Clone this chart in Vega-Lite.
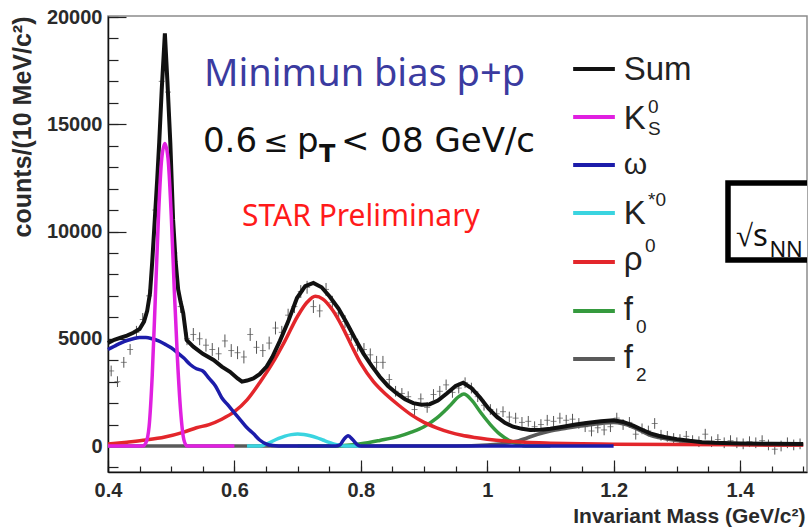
{
"$schema": "https://vega.github.io/schema/vega-lite/v6.json",
"width": 699, "height": 456,
"autosize": {"type": "none"},
"padding": {"left": 108, "top": 16, "right": 3, "bottom": 58},
"background": "white",
"data": {"values": [{}]},
"datasets": {
"sum": [{"m":0.400,"c":4800},{"m":0.410,"c":4950},{"m":0.420,"c":5050},{"m":0.430,"c":5150},{"m":0.440,"c":5280},{"m":0.450,"c":5450},{"m":0.457,"c":5800},{"m":0.462,"c":6300},{"m":0.4665,"c":7130},{"m":0.470,"c":8600},{"m":0.474,"c":10540},{"m":0.478,"c":12500},{"m":0.481,"c":14130},{"m":0.485,"c":16600},{"m":0.490,"c":19240},{"m":0.494,"c":17000},{"m":0.4986,"c":14130},{"m":0.503,"c":10540},{"m":0.507,"c":8600},{"m":0.511,"c":7300},{"m":0.515,"c":6700},{"m":0.519,"c":6200},{"m":0.5245,"c":4940},{"m":0.535,"c":4630},{"m":0.550,"c":4300},{"m":0.567,"c":4010},{"m":0.580,"c":3700},{"m":0.593,"c":3460},{"m":0.605,"c":3150},{"m":0.612,"c":3000},{"m":0.620,"c":3050},{"m":0.630,"c":3150},{"m":0.640,"c":3350},{"m":0.651,"c":3700},{"m":0.660,"c":4150},{"m":0.672,"c":4900},{"m":0.685,"c":5800},{"m":0.699,"c":6900},{"m":0.712,"c":7450},{"m":0.725,"c":7600},{"m":0.738,"c":7400},{"m":0.751,"c":6960},{"m":0.765,"c":6400},{"m":0.778,"c":5720},{"m":0.791,"c":5000},{"m":0.804,"c":4320},{"m":0.817,"c":3750},{"m":0.830,"c":3230},{"m":0.843,"c":2800},{"m":0.857,"c":2450},{"m":0.870,"c":2180},{"m":0.883,"c":2000},{"m":0.896,"c":1920},{"m":0.909,"c":1950},{"m":0.922,"c":2120},{"m":0.936,"c":2450},{"m":0.950,"c":2800},{"m":0.962,"c":2950},{"m":0.975,"c":2700},{"m":0.989,"c":2250},{"m":1.002,"c":1750},{"m":1.015,"c":1370},{"m":1.028,"c":1080},{"m":1.041,"c":900},{"m":1.055,"c":800},{"m":1.068,"c":750},{"m":1.085,"c":760},{"m":1.100,"c":800},{"m":1.120,"c":900},{"m":1.140,"c":1000},{"m":1.160,"c":1080},{"m":1.180,"c":1150},{"m":1.200,"c":1200},{"m":1.215,"c":1120},{"m":1.231,"c":950},{"m":1.245,"c":760},{"m":1.258,"c":590},{"m":1.271,"c":480},{"m":1.284,"c":400},{"m":1.300,"c":320},{"m":1.320,"c":240},{"m":1.340,"c":180},{"m":1.360,"c":150},{"m":1.400,"c":120},{"m":1.450,"c":100},{"m":1.500,"c":90}],
"ks": [{"m":0.400,"c":0},{"m":0.455,"c":0},{"m":0.460,"c":150},{"m":0.465,"c":900},{"m":0.470,"c":3300},{"m":0.475,"c":7000},{"m":0.480,"c":10800},{"m":0.485,"c":13400},{"m":0.490,"c":14100},{"m":0.495,"c":13400},{"m":0.500,"c":10800},{"m":0.505,"c":7200},{"m":0.510,"c":4000},{"m":0.515,"c":1600},{"m":0.520,"c":300},{"m":0.525,"c":0},{"m":0.600,"c":0}],
"om": [{"m":0.400,"c":4500},{"m":0.410,"c":4650},{"m":0.420,"c":4800},{"m":0.430,"c":4920},{"m":0.440,"c":5000},{"m":0.450,"c":5060},{"m":0.460,"c":5060},{"m":0.470,"c":5000},{"m":0.480,"c":4900},{"m":0.490,"c":4750},{"m":0.500,"c":4580},{"m":0.510,"c":4350},{"m":0.520,"c":4100},{"m":0.530,"c":3800},{"m":0.540,"c":3600},{"m":0.550,"c":3500},{"m":0.560,"c":3150},{"m":0.570,"c":2800},{"m":0.580,"c":2250},{"m":0.590,"c":1900},{"m":0.600,"c":1550},{"m":0.610,"c":1200},{"m":0.620,"c":850},{"m":0.630,"c":580},{"m":0.640,"c":280},{"m":0.650,"c":100},{"m":0.660,"c":20},{"m":0.670,"c":0},{"m":0.760,"c":0},{"m":0.767,"c":50},{"m":0.773,"c":300},{"m":0.780,"c":480},{"m":0.787,"c":300},{"m":0.795,"c":50},{"m":0.800,"c":0},{"m":1.200,"c":0}],
"kst": [{"m":0.620,"c":0},{"m":0.640,"c":0},{"m":0.650,"c":80},{"m":0.660,"c":220},{"m":0.670,"c":350},{"m":0.680,"c":460},{"m":0.690,"c":530},{"m":0.700,"c":560},{"m":0.710,"c":540},{"m":0.720,"c":480},{"m":0.730,"c":390},{"m":0.740,"c":280},{"m":0.750,"c":170},{"m":0.760,"c":70},{"m":0.770,"c":10},{"m":0.780,"c":0},{"m":0.800,"c":0}],
"rho": [{"m":0.400,"c":90},{"m":0.430,"c":180},{"m":0.460,"c":280},{"m":0.490,"c":420},{"m":0.520,"c":650},{"m":0.540,"c":850},{"m":0.560,"c":1000},{"m":0.580,"c":1250},{"m":0.600,"c":1600},{"m":0.620,"c":2150},{"m":0.640,"c":2950},{"m":0.660,"c":3850},{"m":0.680,"c":4900},{"m":0.700,"c":6050},{"m":0.715,"c":6700},{"m":0.728,"c":6980},{"m":0.740,"c":6850},{"m":0.755,"c":6350},{"m":0.770,"c":5600},{"m":0.785,"c":4700},{"m":0.800,"c":3850},{"m":0.820,"c":3000},{"m":0.840,"c":2400},{"m":0.860,"c":1900},{"m":0.880,"c":1450},{"m":0.900,"c":1100},{"m":0.920,"c":850},{"m":0.940,"c":650},{"m":0.960,"c":500},{"m":0.980,"c":400},{"m":1.000,"c":320},{"m":1.030,"c":230},{"m":1.060,"c":170},{"m":1.100,"c":130},{"m":1.150,"c":100},{"m":1.200,"c":85},{"m":1.300,"c":65},{"m":1.400,"c":55},{"m":1.500,"c":45}],
"f0": [{"m":0.700,"c":0},{"m":0.760,"c":0},{"m":0.800,"c":100},{"m":0.830,"c":260},{"m":0.860,"c":450},{"m":0.880,"c":650},{"m":0.900,"c":900},{"m":0.920,"c":1300},{"m":0.940,"c":1850},{"m":0.955,"c":2300},{"m":0.963,"c":2420},{"m":0.975,"c":2150},{"m":0.990,"c":1550},{"m":1.005,"c":1000},{"m":1.020,"c":550},{"m":1.035,"c":250},{"m":1.050,"c":80},{"m":1.060,"c":0},{"m":1.100,"c":0}],
"f2": [{"m":0.400,"c":0},{"m":0.950,"c":0},{"m":1.000,"c":50},{"m":1.050,"c":250},{"m":1.080,"c":550},{"m":1.100,"c":700},{"m":1.120,"c":800},{"m":1.140,"c":900},{"m":1.160,"c":980},{"m":1.180,"c":1050},{"m":1.200,"c":1100},{"m":1.215,"c":1030},{"m":1.231,"c":870},{"m":1.245,"c":680},{"m":1.258,"c":500},{"m":1.271,"c":400},{"m":1.284,"c":330},{"m":1.300,"c":250},{"m":1.320,"c":180},{"m":1.340,"c":130},{"m":1.360,"c":100},{"m":1.400,"c":70},{"m":1.450,"c":50},{"m":1.500,"c":45}],
"pts": [{"m":0.405,"c":3500,"e":250},{"m":0.415,"c":3000,"e":250},{"m":0.425,"c":3900,"e":250},{"m":0.435,"c":4500,"e":250},{"m":0.445,"c":5300,"e":300},{"m":0.455,"c":5900,"e":300},{"m":0.465,"c":7000,"e":300},{"m":0.475,"c":11000,"e":400},{"m":0.485,"c":17000,"e":400},{"m":0.495,"c":16500,"e":400},{"m":0.505,"c":9000,"e":400},{"m":0.515,"c":6500,"e":300},{"m":0.525,"c":5000,"e":300},{"m":0.535,"c":5200,"e":300},{"m":0.545,"c":5000,"e":300},{"m":0.555,"c":4700,"e":300},{"m":0.565,"c":4500,"e":300},{"m":0.575,"c":4300,"e":300},{"m":0.585,"c":4900,"e":300},{"m":0.595,"c":4450,"e":300},{"m":0.605,"c":4350,"e":300},{"m":0.615,"c":4150,"e":300},{"m":0.625,"c":5200,"e":300},{"m":0.635,"c":4600,"e":300},{"m":0.645,"c":4450,"e":300},{"m":0.655,"c":4800,"e":300},{"m":0.665,"c":5500,"e":300},{"m":0.675,"c":5300,"e":300},{"m":0.685,"c":6100,"e":300},{"m":0.695,"c":6500,"e":300},{"m":0.705,"c":7200,"e":300},{"m":0.715,"c":7400,"e":300},{"m":0.725,"c":6500,"e":300},{"m":0.735,"c":6300,"e":300},{"m":0.745,"c":7300,"e":300},{"m":0.755,"c":6700,"e":300},{"m":0.765,"c":6200,"e":300},{"m":0.775,"c":5800,"e":300},{"m":0.785,"c":5200,"e":300},{"m":0.795,"c":4700,"e":300},{"m":0.805,"c":4500,"e":300},{"m":0.815,"c":4250,"e":300},{"m":0.825,"c":3900,"e":300},{"m":0.835,"c":3900,"e":300},{"m":0.845,"c":3100,"e":250},{"m":0.855,"c":2550,"e":250},{"m":0.865,"c":2450,"e":250},{"m":0.875,"c":2300,"e":250},{"m":0.885,"c":1700,"e":250},{"m":0.895,"c":2200,"e":250},{"m":0.905,"c":1800,"e":250},{"m":0.915,"c":2400,"e":250},{"m":0.925,"c":2550,"e":250},{"m":0.935,"c":2850,"e":250},{"m":0.945,"c":2500,"e":250},{"m":0.955,"c":2700,"e":250},{"m":0.965,"c":2950,"e":250},{"m":0.975,"c":2700,"e":250},{"m":0.985,"c":2300,"e":250},{"m":0.995,"c":1900,"e":250},{"m":1.005,"c":1700,"e":250},{"m":1.015,"c":1500,"e":250},{"m":1.025,"c":1600,"e":250},{"m":1.035,"c":1350,"e":250},{"m":1.045,"c":1300,"e":250},{"m":1.055,"c":1100,"e":250},{"m":1.065,"c":1150,"e":250},{"m":1.075,"c":900,"e":250},{"m":1.085,"c":1000,"e":250},{"m":1.095,"c":1200,"e":250},{"m":1.105,"c":1150,"e":250},{"m":1.115,"c":1300,"e":250},{"m":1.125,"c":1200,"e":250},{"m":1.135,"c":1250,"e":250},{"m":1.145,"c":1050,"e":250},{"m":1.155,"c":900,"e":250},{"m":1.165,"c":700,"e":250},{"m":1.175,"c":850,"e":250},{"m":1.185,"c":750,"e":250},{"m":1.195,"c":900,"e":250},{"m":1.205,"c":1300,"e":250},{"m":1.215,"c":1000,"e":250},{"m":1.225,"c":1100,"e":250},{"m":1.235,"c":550,"e":250},{"m":1.245,"c":800,"e":250},{"m":1.255,"c":700,"e":250},{"m":1.265,"c":1050,"e":250},{"m":1.275,"c":500,"e":250},{"m":1.285,"c":450,"e":250},{"m":1.295,"c":350,"e":250},{"m":1.305,"c":300,"e":250},{"m":1.315,"c":450,"e":250},{"m":1.325,"c":250,"e":250},{"m":1.335,"c":200,"e":250},{"m":1.345,"c":550,"e":250},{"m":1.355,"c":200,"e":250},{"m":1.365,"c":300,"e":250},{"m":1.375,"c":150,"e":250},{"m":1.385,"c":250,"e":250},{"m":1.395,"c":150,"e":250},{"m":1.405,"c":100,"e":250},{"m":1.415,"c":200,"e":250},{"m":1.425,"c":150,"e":250},{"m":1.435,"c":250,"e":250},{"m":1.445,"c":50,"e":250},{"m":1.455,"c":-150,"e":250},{"m":1.465,"c":0,"e":250},{"m":1.475,"c":150,"e":250},{"m":1.485,"c":50,"e":250},{"m":1.495,"c":100,"e":250}]
},
"config": {
"view": {"stroke": "#8c8c8c", "strokeWidth": 1.5},
"axis": {"labelFont": "Liberation Sans", "labelFontWeight": "bold", "labelFontSize": 20, "labelColor": "#2a2a2a", "titleFont": "Liberation Sans", "titleFontWeight": "bold", "titleFontSize": 22, "titleColor": "#2a2a2a", "domainColor": "#111", "domainWidth": 1.5, "tickColor": "#222", "tickWidth": 1.2, "grid": false}
},
"resolve": {"axis": {"x": "independent", "y": "independent"}},
"layer": [
{"data": {"name": "f2"}, "mark": {"type": "line", "color": "#5a5a5a", "strokeWidth": 3.5, "interpolate": "monotone"},
 "encoding": {
  "x": {"field": "m", "type": "quantitative", "scale": {"domain": [0.4, 1.506], "nice": false, "zero": false},
        "axis": {"orient": "bottom", "values": [0.4, 0.6, 0.8, 1, 1.2, 1.4], "format": ".1~f", "tickSize": -12, "labelPadding": 20, "labelFlush": false,
                 "title": "Invariant Mass (GeV/c²)", "titleFontSize": 21, "titleAlign": "right", "titleAnchor": "end", "titleX": 697, "titleY": 44, "titleBaseline": "middle"}},
  "y": {"field": "c", "type": "quantitative", "scale": {"domain": [-1212, 20047], "nice": false, "zero": false},
        "axis": {"orient": "left", "values": [0, 5000, 10000, 15000, 20000], "format": "d", "tickSize": -18, "labelPadding": 24, "labelFlush": false,
                 "title": "counts/(10 MeV/c²)", "titleFontSize": 25, "titleX": -86, "titleY": 0, "titleAlign": "right", "titleAngle": -90, "titleBaseline": "middle"}}}},
{"data": {"name": "pts"}, "mark": {"type": "point", "opacity": 0},
 "encoding": {
  "x": {"field": "m", "type": "quantitative",
        "axis": {"orient": "top", "offset": -456, "values": [0.4,0.45,0.5,0.55,0.6,0.65,0.7,0.75,0.8,0.85,0.9,0.95,1,1.05,1.1,1.15,1.2,1.25,1.3,1.35,1.4,1.45,1.5], "labels": false, "domain": false, "tickSize": 6, "title": null}},
  "y": {"field": "c", "type": "quantitative",
        "axis": {"orient": "right", "offset": -699, "values": [-1000,0,1000,2000,3000,4000,5000,6000,7000,8000,9000,10000,11000,12000,13000,14000,15000,16000,17000,18000,19000,20000], "labels": false, "domain": false, "tickSize": 10, "title": null}}}},
{"data": {"name": "pts"}, "mark": {"type": "errorbar", "color": "#555", "thickness": 1},
 "encoding": {"x": {"field": "m", "type": "quantitative", "axis": null}, "y": {"field": "c", "type": "quantitative", "axis": null}, "yError": {"field": "e"}}},
{"data": {"name": "pts"}, "mark": {"type": "tick", "orient": "horizontal", "size": 6, "thickness": 1, "color": "#555"},
 "encoding": {"x": {"field": "m", "type": "quantitative", "axis": null}, "y": {"field": "c", "type": "quantitative", "axis": null}}},
{"data": {"name": "f0"}, "mark": {"type": "line", "color": "#359a3e", "strokeWidth": 3.5, "interpolate": "monotone"},
 "encoding": {"x": {"field": "m", "type": "quantitative", "axis": null}, "y": {"field": "c", "type": "quantitative", "axis": null}}},
{"data": {"name": "rho"}, "mark": {"type": "line", "color": "#e3262b", "strokeWidth": 3.5, "interpolate": "monotone"},
 "encoding": {"x": {"field": "m", "type": "quantitative", "axis": null}, "y": {"field": "c", "type": "quantitative", "axis": null}}},
{"data": {"name": "kst"}, "mark": {"type": "line", "color": "#3ad4e0", "strokeWidth": 3.5, "interpolate": "monotone"},
 "encoding": {"x": {"field": "m", "type": "quantitative", "axis": null}, "y": {"field": "c", "type": "quantitative", "axis": null}}},
{"data": {"name": "om"}, "mark": {"type": "line", "color": "#1c1caa", "strokeWidth": 3.5, "interpolate": "monotone"},
 "encoding": {"x": {"field": "m", "type": "quantitative", "axis": null}, "y": {"field": "c", "type": "quantitative", "axis": null}}},
{"data": {"name": "sum"}, "mark": {"type": "line", "color": "#111", "strokeWidth": 4},
 "encoding": {"x": {"field": "m", "type": "quantitative", "axis": null}, "y": {"field": "c", "type": "quantitative", "axis": null}}},
{"data": {"name": "ks"}, "mark": {"type": "line", "color": "#e020e0", "strokeWidth": 3.5, "interpolate": "monotone"},
 "encoding": {"x": {"field": "m", "type": "quantitative", "axis": null}, "y": {"field": "c", "type": "quantitative", "axis": null}}},

{"mark": {"type": "text", "text": "Minimun bias p+p", "font": "Noto Sans", "fontSize": 38, "color": "#3b3ba0", "align": "left", "baseline": "alphabetic"},
 "encoding": {"x": {"datum": 0.552, "type": "quantitative", "axis": null}, "y": {"datum": 16783, "type": "quantitative", "axis": null}}},
{"mark": {"type": "text", "text": "0.6", "font": "DejaVu Sans", "fontSize": 34, "color": "#111", "align": "left", "baseline": "alphabetic"},
 "encoding": {"x": {"datum": 0.5503, "type": "quantitative", "axis": null}, "y": {"datum": 13706, "type": "quantitative", "axis": null}}},
{"mark": {"type": "text", "text": "≤", "font": "DejaVu Sans", "fontSize": 30, "color": "#111", "align": "left", "baseline": "alphabetic"},
 "encoding": {"x": {"datum": 0.6455, "type": "quantitative", "axis": null}, "y": {"datum": 13706, "type": "quantitative", "axis": null}}},
{"mark": {"type": "text", "text": "p", "font": "DejaVu Sans", "fontSize": 34, "color": "#111", "align": "left", "baseline": "alphabetic"},
 "encoding": {"x": {"datum": 0.6991, "type": "quantitative", "axis": null}, "y": {"datum": 13706, "type": "quantitative", "axis": null}}},
{"mark": {"type": "text", "text": "T", "font": "DejaVu Sans", "fontSize": 24, "fontWeight": "bold", "color": "#111", "align": "left", "baseline": "alphabetic"},
 "encoding": {"x": {"datum": 0.7339, "type": "quantitative", "axis": null}, "y": {"datum": 13240, "type": "quantitative", "axis": null}}},
{"mark": {"type": "text", "text": "< 08 GeV/c", "font": "DejaVu Sans", "fontSize": 34, "color": "#111", "align": "left", "baseline": "alphabetic"},
 "encoding": {"x": {"datum": 0.7687, "type": "quantitative", "axis": null}, "y": {"datum": 13706, "type": "quantitative", "axis": null}}},
{"mark": {"type": "text", "text": "STAR Preliminary", "font": "Noto Sans", "fontSize": 30, "color": "#ff1a1a", "align": "left", "baseline": "alphabetic"},
 "encoding": {"x": {"datum": 0.612, "type": "quantitative", "axis": null}, "y": {"datum": 10256, "type": "quantitative", "axis": null}}},

{"mark": {"type": "rect", "fill": "white", "stroke": "#000", "strokeWidth": 5.5, "clip": true},
 "encoding": {"x": {"datum": 1.381, "type": "quantitative", "axis": null}, "x2": {"datum": 1.62}, "y": {"datum": 12261, "type": "quantitative", "axis": null}, "y2": {"datum": 8671}}},
{"mark": {"type": "text", "text": "√s", "font": "Noto Sans", "fontSize": 31, "color": "#111", "align": "left", "baseline": "alphabetic"},
 "encoding": {"x": {"datum": 1.3937, "type": "quantitative", "axis": null}, "y": {"datum": 9324, "type": "quantitative", "axis": null}}},
{"mark": {"type": "text", "text": "NN", "font": "Noto Sans", "fontSize": 22, "color": "#111", "align": "left", "baseline": "alphabetic"},
 "encoding": {"x": {"datum": 1.4465, "type": "quantitative", "axis": null}, "y": {"datum": 8811, "type": "quantitative", "axis": null}}},

{"mark": {"type": "rule", "color": "#111", "strokeWidth": 4},
 "encoding": {"x": {"datum": 1.136, "type": "quantitative", "axis": null}, "x2": {"datum": 1.202}, "y": {"datum": 17576, "type": "quantitative", "axis": null}}},
{"mark": {"type": "rule", "color": "#e020e0", "strokeWidth": 4},
 "encoding": {"x": {"datum": 1.136, "type": "quantitative", "axis": null}, "x2": {"datum": 1.202}, "y": {"datum": 15338, "type": "quantitative", "axis": null}}},
{"mark": {"type": "rule", "color": "#1c1caa", "strokeWidth": 4},
 "encoding": {"x": {"datum": 1.136, "type": "quantitative", "axis": null}, "x2": {"datum": 1.202}, "y": {"datum": 13100, "type": "quantitative", "axis": null}}},
{"mark": {"type": "rule", "color": "#3ad4e0", "strokeWidth": 4},
 "encoding": {"x": {"datum": 1.136, "type": "quantitative", "axis": null}, "x2": {"datum": 1.202}, "y": {"datum": 10862, "type": "quantitative", "axis": null}}},
{"mark": {"type": "rule", "color": "#e3262b", "strokeWidth": 4},
 "encoding": {"x": {"datum": 1.136, "type": "quantitative", "axis": null}, "x2": {"datum": 1.202}, "y": {"datum": 8578, "type": "quantitative", "axis": null}}},
{"mark": {"type": "rule", "color": "#359a3e", "strokeWidth": 4},
 "encoding": {"x": {"datum": 1.136, "type": "quantitative", "axis": null}, "x2": {"datum": 1.202}, "y": {"datum": 6294, "type": "quantitative", "axis": null}}},
{"mark": {"type": "rule", "color": "#5a5a5a", "strokeWidth": 4},
 "encoding": {"x": {"datum": 1.136, "type": "quantitative", "axis": null}, "x2": {"datum": 1.202}, "y": {"datum": 4056, "type": "quantitative", "axis": null}}},

{"mark": {"type": "text", "text": "Sum", "font": "Liberation Sans", "fontSize": 33, "color": "#222", "align": "left", "baseline": "alphabetic"},
 "encoding": {"x": {"datum": 1.216, "type": "quantitative", "axis": null}, "y": {"datum": 17063, "type": "quantitative", "axis": null}}},
{"mark": {"type": "text", "text": "K", "font": "Liberation Sans", "fontSize": 33, "color": "#222", "align": "left", "baseline": "alphabetic"},
 "encoding": {"x": {"datum": 1.216, "type": "quantitative", "axis": null}, "y": {"datum": 14779, "type": "quantitative", "axis": null}}},
{"mark": {"type": "text", "text": "0", "font": "Liberation Sans", "fontSize": 19, "color": "#222", "align": "left", "baseline": "alphabetic"},
 "encoding": {"x": {"datum": 1.2544, "type": "quantitative", "axis": null}, "y": {"datum": 15524, "type": "quantitative", "axis": null}}},
{"mark": {"type": "text", "text": "S", "font": "Liberation Sans", "fontSize": 19, "color": "#222", "align": "left", "baseline": "alphabetic"},
 "encoding": {"x": {"datum": 1.2544, "type": "quantitative", "axis": null}, "y": {"datum": 14499, "type": "quantitative", "axis": null}}},
{"mark": {"type": "text", "text": "ω", "font": "Liberation Sans", "fontSize": 30, "color": "#222", "align": "left", "baseline": "alphabetic"},
 "encoding": {"x": {"datum": 1.216, "type": "quantitative", "axis": null}, "y": {"datum": 12681, "type": "quantitative", "axis": null}}},
{"mark": {"type": "text", "text": "K", "font": "Liberation Sans", "fontSize": 33, "color": "#222", "align": "left", "baseline": "alphabetic"},
 "encoding": {"x": {"datum": 1.216, "type": "quantitative", "axis": null}, "y": {"datum": 10350, "type": "quantitative", "axis": null}}},
{"mark": {"type": "text", "text": "*0", "font": "Liberation Sans", "fontSize": 19, "color": "#222", "align": "left", "baseline": "alphabetic"},
 "encoding": {"x": {"datum": 1.2544, "type": "quantitative", "axis": null}, "y": {"datum": 11189, "type": "quantitative", "axis": null}}},
{"mark": {"type": "text", "text": "ρ", "font": "Liberation Sans", "fontSize": 33, "color": "#222", "align": "left", "baseline": "alphabetic"},
 "encoding": {"x": {"datum": 1.216, "type": "quantitative", "axis": null}, "y": {"datum": 8205, "type": "quantitative", "axis": null}}},
{"mark": {"type": "text", "text": "0", "font": "Liberation Sans", "fontSize": 19, "color": "#222", "align": "left", "baseline": "alphabetic"},
 "encoding": {"x": {"datum": 1.2497, "type": "quantitative", "axis": null}, "y": {"datum": 9044, "type": "quantitative", "axis": null}}},
{"mark": {"type": "text", "text": "f", "font": "Liberation Sans", "fontSize": 33, "color": "#222", "align": "left", "baseline": "alphabetic"},
 "encoding": {"x": {"datum": 1.216, "type": "quantitative", "axis": null}, "y": {"datum": 5874, "type": "quantitative", "axis": null}}},
{"mark": {"type": "text", "text": "0", "font": "Liberation Sans", "fontSize": 19, "color": "#222", "align": "left", "baseline": "alphabetic"},
 "encoding": {"x": {"datum": 1.2354, "type": "quantitative", "axis": null}, "y": {"datum": 5268, "type": "quantitative", "axis": null}}},
{"mark": {"type": "text", "text": "f", "font": "Liberation Sans", "fontSize": 33, "color": "#222", "align": "left", "baseline": "alphabetic"},
 "encoding": {"x": {"datum": 1.216, "type": "quantitative", "axis": null}, "y": {"datum": 3636, "type": "quantitative", "axis": null}}},
{"mark": {"type": "text", "text": "2", "font": "Liberation Sans", "fontSize": 19, "color": "#222", "align": "left", "baseline": "alphabetic"},
 "encoding": {"x": {"datum": 1.2354, "type": "quantitative", "axis": null}, "y": {"datum": 3030, "type": "quantitative", "axis": null}}}
]
}
